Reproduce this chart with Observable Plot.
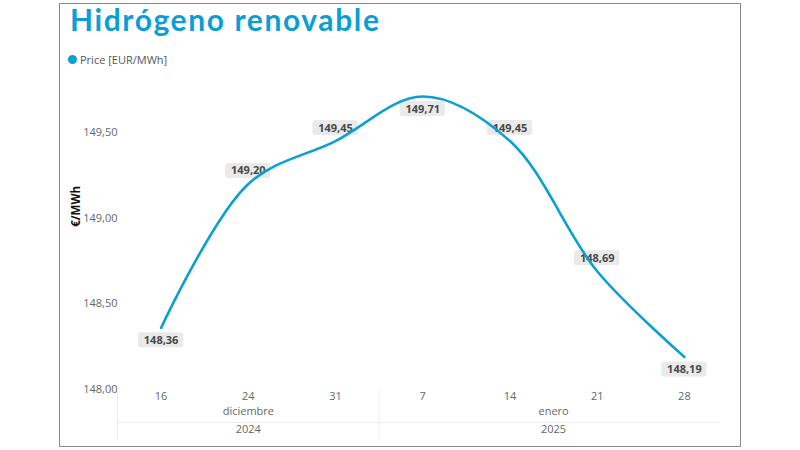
<!DOCTYPE html>
<html>
<head>
<meta charset="utf-8">
<script src="https://cdn.jsdelivr.net/npm/d3@7"></script>
<script src="https://cdn.jsdelivr.net/npm/@observablehq/plot@0.6"></script>
<style>
  html, body { margin: 0; padding: 0; background: #fff; }
  body { width: 800px; height: 450px; position: relative; overflow: hidden; font-family: "Open Sans", sans-serif; }
  #frame { position: absolute; left: 59px; top: 3px; width: 680px; height: 442px; border: 1px solid #8a8a8a; box-sizing: content-box; }
  #title { position: absolute; left: 70px; top: 3.5px; font: 700 30px/30px Lato, "Open Sans", sans-serif; letter-spacing: 1.6px; color: #0b9ed6; white-space: nowrap; }
  #legend { position: absolute; left: 68px; top: 52px; font: 11px "Open Sans", sans-serif; color: #555; display: flex; align-items: center; }
  #legend span.dot { width: 9px; height: 9px; border-radius: 50%; background: #0aa0d2; display: inline-block; margin-right: 3px; }
  #chart { position: absolute; left: 0; top: 0; }
</style>
</head>
<body>
<div id="frame"></div>
<div id="title">Hidrógeno renovable</div>
<div id="legend"><span class="dot"></span><span id="legendText"></span></div>
<div id="chart"></div>
<script>
// ---- data ----
const days = ["16", "24", "31", "7", "14", "21", "28"];
const months = ["diciembre", "diciembre", "diciembre", "enero", "enero", "enero", "enero"];
const years = ["2024", "2024", "2024", "2025", "2025", "2025", "2025"];
const prices = [148.36, 149.20, 149.45, 149.71, 149.45, 148.69, 148.19];
const yTicks = [148.0, 148.5, 149.0, 149.5];
const seriesName = "Price [EUR/MWh]";
const yLabel = "€/MWh";

document.getElementById("legendText").textContent = seriesName;

// ---- layout ----
const W = 800, H = 450;
const yDomain = [148, 149.9];
const mTop = 63.5, mBottom = 61, mLeft = 117, mRight = 72.5;
const yPix = d3.scaleLinear(yDomain, [H - mBottom, mTop]);

const fmt = v => v.toFixed(2).replace(".", ",");
const n = prices.length;
const maxIdx = d3.maxIndex(prices);
const data = prices.map((p, i) => {
  const below = i === 0 || i === n - 1 || i === maxIdx;
  const cy = yPix(p) + (below ? 12.5 : -13);
  return {
    i, p, day: days[i], month: months[i], year: years[i],
    label: fmt(p),
    ly: yPix.invert(cy),
    ly1: yPix.invert(cy + 7.5),
    ly2: yPix.invert(cy - 7.5)
  };
});

// group spans (months / years)
function spans(arr) {
  const out = [];
  arr.forEach((v, i) => {
    if (i === 0 || arr[i - 1] !== v) out.push({ label: v, start: i, end: i });
    else out[out.length - 1].end = i;
  });
  return out.map(s => ({ ...s, center: (s.start + s.end) / 2 }));
}
const monthSpans = spans(months);
const yearSpans = spans(years);
const separators = monthSpans.slice(1).map(s => s.start - 0.5);

const lineColor = "#0aa0d2";
const font = "Open Sans, sans-serif";

const plot = Plot.plot({
  width: W, height: H,
  marginTop: mTop, marginBottom: mBottom, marginLeft: mLeft, marginRight: mRight,
  style: { fontFamily: font, background: "transparent", overflow: "visible" },
  x: { type: "linear", domain: [-0.5, n - 0.5], axis: null },
  y: { domain: yDomain, axis: null },
  marks: [
    // y tick labels
    Plot.text(yTicks, { x: -0.5, y: d => d, text: d => fmt(d), textAnchor: "end", fontSize: 11, fill: "#666" }),
    // y axis title
    Plot.text([yLabel], { frameAnchor: "left", dx: -41, rotate: -90, text: d => d, fontSize: 11.5, fontWeight: "bold", fill: "#111" }),
    // hierarchical x axis lines
    Plot.ruleY([yPix.invert(422)], { x1: -0.5, x2: n - 1 + 0.41, stroke: "#ececec", strokeWidth: 1 }),
    Plot.ruleX([-0.5, ...separators], { y1: yPix.invert(390), y2: yPix.invert(440), stroke: "#ececec", strokeWidth: 1 }),
    // day labels
    Plot.text(data, { x: "i", frameAnchor: "bottom", dy: 10, text: "day", fontSize: 11, fill: "#666" }),
    // month labels
    Plot.text(monthSpans, { x: "center", frameAnchor: "bottom", dy: 25, text: "label", fontSize: 11, fill: "#666" }),
    // year labels
    Plot.text(yearSpans, { x: "center", frameAnchor: "bottom", dy: 43, text: "label", fontSize: 11, fill: "#666" }),
    // data label boxes
    Plot.rect(data, { x1: d => d.i - 0.26, x2: d => d.i + 0.26, y1: "ly1", y2: "ly2", fill: "#eaeaea", rx: 3 }),
    Plot.text(data, { x: "i", y: "ly", text: "label", fontSize: 11, fontWeight: "bold", fill: "#484848" }),
    // line
    Plot.line(data, { x: "i", y: "p", stroke: lineColor, strokeWidth: 2.6, curve: "catmull-rom" })
  ]
});
document.getElementById("chart").append(plot);
</script>
</body>
</html>
